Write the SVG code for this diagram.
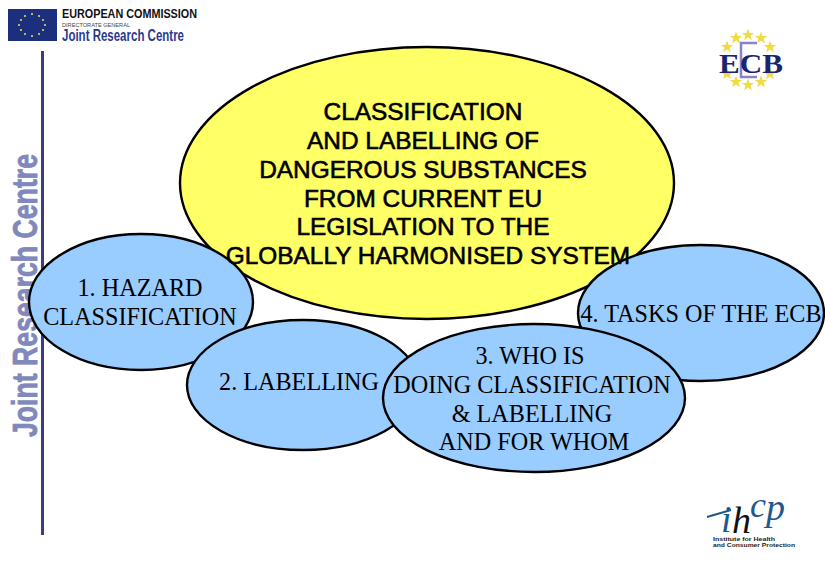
<svg xmlns="http://www.w3.org/2000/svg" width="825" height="570" viewBox="0 0 825 570">
<style>
.e{stroke:#000;stroke-width:2.400}
.b{fill:#99ccff}
.t{font-family:"Liberation Sans",Arial,sans-serif;font-size:24.400px;fill:#000;stroke:#000;stroke-width:0.600;text-anchor:middle}
.s{font-family:"Liberation Serif","Times New Roman",serif;font-size:24.200px;fill:#000;text-anchor:middle}
.star{fill:#efdc45}
</style>
<defs>
<polygon id="st" points="0,-6.500 1.700,-2 6.300,-2 2.600,0.800 4,5.300 0,2.600 -4,5.300 -2.600,0.800 -6.300,-2 -1.700,-2"/>
</defs>
<rect width="825" height="570" fill="#fff"/>
<g id="jrc-logo">
<rect x="8" y="9" width="49" height="32" fill="#1c2f7c"/>
<g fill="#f0e060">
<circle cx="32" cy="14" r="1"/><circle cx="39" cy="16" r="1"/><circle cx="43" cy="20" r="1"/><circle cx="45" cy="25" r="1"/><circle cx="43" cy="30" r="1"/><circle cx="39" cy="34" r="1"/><circle cx="32" cy="36" r="1"/><circle cx="25" cy="34" r="1"/><circle cx="21" cy="30" r="1"/><circle cx="19" cy="25" r="1"/><circle cx="21" cy="20" r="1"/><circle cx="25" cy="16" r="1"/>
</g>
<text x="62" y="18" font-family="Liberation Sans,sans-serif" font-size="13" font-weight="700" fill="#111" textLength="135" lengthAdjust="spacingAndGlyphs">EUROPEAN COMMISSION</text>
<text x="62" y="27" font-family="Liberation Sans,sans-serif" font-size="6" fill="#444" textLength="68" lengthAdjust="spacingAndGlyphs">DIRECTORATE GENERAL</text>
<text x="62" y="41" font-family="Liberation Sans,sans-serif" font-size="16" font-weight="700" fill="#2a3a8c" textLength="122" lengthAdjust="spacingAndGlyphs">Joint Research Centre</text>
</g>
<g id="jrc-side">
<rect x="41" y="51" width="3" height="484" fill="#3c3c84"/>
<text transform="translate(37,437) rotate(-90)" font-family="Liberation Sans,sans-serif" font-size="35" font-weight="700" fill="#8088bc" stroke="#8088bc" stroke-width="0.800" textLength="283" lengthAdjust="spacingAndGlyphs">Joint Research Centre</text>
</g>
<g id="ecb-logo">
<g class="star">
<use href="#st" x="748" y="35"/><use href="#st" x="736" y="38"/><use href="#st" x="761" y="38"/><use href="#st" x="727" y="47"/><use href="#st" x="770" y="47"/><use href="#st" x="727" y="74"/><use href="#st" x="770" y="74"/><use href="#st" x="736" y="82"/><use href="#st" x="761" y="82"/><use href="#st" x="748" y="85"/>
</g>
<path d="M757 43H741V77H757" fill="none" stroke="#8a84c0" stroke-width="2.500"/>
<text x="751" y="73" font-family="Liberation Serif,serif" font-size="27" font-weight="700" fill="#1c2470" text-anchor="middle" textLength="64" lengthAdjust="spacingAndGlyphs">ECB</text>
</g>
<g id="ihcp-logo">
<path d="M707 517L731 510" stroke="#1c5a8c" stroke-width="2" fill="none"/>
<text x="721" y="532" font-family="Liberation Serif,serif" font-size="38" font-style="italic" fill="#1c5a8c">i</text>
<text x="732" y="533" font-family="Liberation Serif,serif" font-size="38" font-style="italic" fill="#111">h</text>
<text x="750" y="517" font-family="Liberation Serif,serif" font-size="36" font-style="italic" fill="#1c5a8c">c</text>
<text x="766" y="520" font-family="Liberation Serif,serif" font-size="38" font-style="italic" fill="#1c5a8c">p</text>
<text x="713" y="541" font-family="Liberation Sans,sans-serif" font-size="6" font-weight="700" fill="#222" textLength="62" lengthAdjust="spacingAndGlyphs">Institute for Health</text>
<text x="713" y="547" font-family="Liberation Sans,sans-serif" font-size="6" font-weight="700" fill="#222" textLength="82" lengthAdjust="spacingAndGlyphs">and Consumer Protection</text>
</g>
<g id="node-main">
<ellipse class="e" fill="#ffff66" cx="427" cy="183" rx="247" ry="136"/>
</g>
<g id="node-1">
<ellipse class="e b" cx="141" cy="302" rx="112" ry="68"/>
</g>
<g id="node-4">
<ellipse class="e b" cx="701" cy="313" rx="123" ry="68"/>
</g>
<g id="node-2">
<ellipse class="e b" cx="303" cy="385" rx="116" ry="65"/>
</g>
<g id="node-3">
<ellipse class="e b" cx="534" cy="398" rx="151" ry="74"/>
</g>
<g id="labels">
<text class="t"><tspan x="423" y="120">CLASSIFICATION</tspan><tspan x="423" y="149">AND LABELLING OF</tspan><tspan x="423" y="178">DANGEROUS SUBSTANCES</tspan><tspan x="423" y="207">FROM CURRENT EU</tspan><tspan x="423" y="235">LEGISLATION TO THE</tspan><tspan x="428" y="264">GLOBALLY HARMONISED SYSTEM</tspan></text>
<text class="s"><tspan x="140" y="296">1. HAZARD</tspan><tspan x="140" y="325">CLASSIFICATION</tspan></text>
<text class="s" x="701" y="322">4. TASKS OF THE ECB</text>
<text class="s" x="299" y="390">2. LABELLING</text>
<text class="s"><tspan x="530" y="364">3. WHO IS</tspan><tspan x="532" y="393">DOING CLASSIFICATION</tspan><tspan x="532" y="422">&amp; LABELLING</tspan><tspan x="534" y="450">AND FOR WHOM</tspan></text>
</g>
</svg>
